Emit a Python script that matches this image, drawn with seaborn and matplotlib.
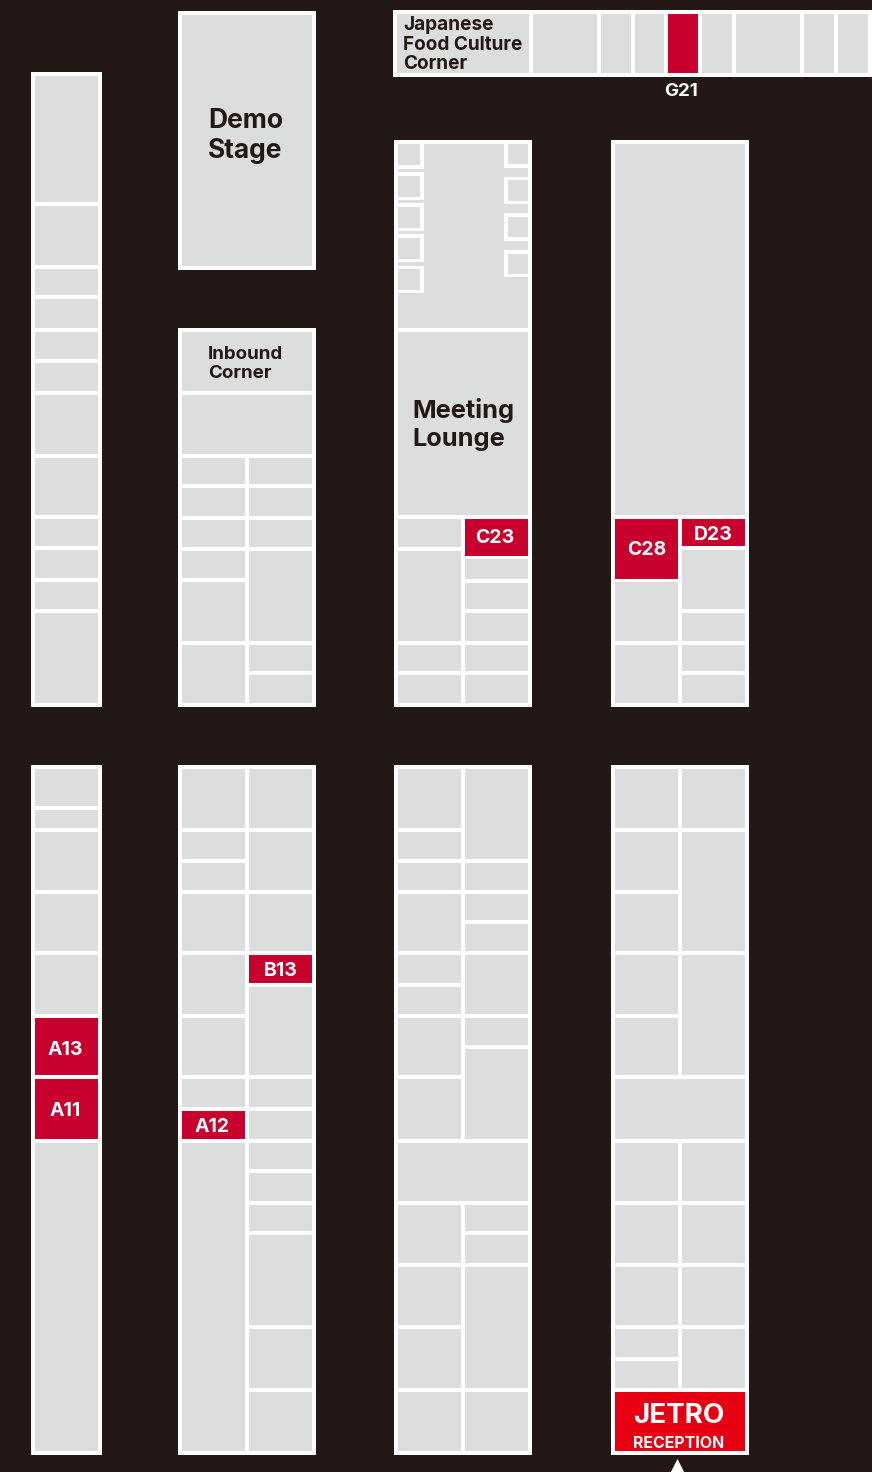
# Plano de la feria: bloques de stands sobre fondo oscuro
import pandas as pd
import seaborn as sns
import matplotlib.pyplot as plt

DARK = "#231815"
GREY = "#dcdddd"
RED = "#c7002e"
JETRO_RED = "#e60012"

# Bloques blancos (x0, x1, y0, y1)
blocks = [
    (31, 102, 72, 707), (178, 316, 11, 270), (178, 316, 328, 707),
    (394, 532, 140, 707), (611, 749, 140, 707), (393, 873, 9.5, 76.5),
    (31, 102, 765, 1455), (178, 316, 765, 1455), (394, 532, 765, 1455),
    (611, 749, 765, 1455),
]

# Columnas de stands: (x0, x1, y inicio, y fin, divisiones)
columns = [
    (35, 98, 76, 703, [204, 267, 297, 330, 361, 393, 456, 517, 548, 580, 611]),
    (182, 312, 15, 266, []),
    (182, 312, 332, 454, [393]),
    (182, 245, 458, 703, [486, 518, 549, 580, 643]),
    (249, 312, 458, 703, [486, 518, 549, 643, 673]),
    (398, 528, 144, 515, [330]),
    (398, 461, 519, 703, [549, 643, 673]),
    (465, 528, 519, 703, [557, 581, 611, 643, 673]),
    (615, 745, 144, 515, []),
    (615, 678, 519, 703, [580, 643]),
    (682, 745, 519, 703, [548, 611, 643, 673]),
    (35, 98, 769, 1451, [808, 830, 892, 953, 1016, 1077, 1141]),
    (182, 245, 769, 1451, [830, 861, 892, 953, 1016, 1077, 1109, 1141]),
    (249, 312, 769, 1451, [830, 892, 953, 985, 1077, 1109, 1141, 1171, 1203, 1233, 1327, 1390]),
    (398, 461, 769, 1139, [830, 861, 892, 953, 985, 1016, 1077]),
    (465, 528, 769, 1139, [861, 892, 922, 953, 1016, 1047]),
    (398, 528, 1143, 1201, []),
    (398, 461, 1205, 1451, [1265, 1327, 1390]),
    (465, 528, 1205, 1451, [1233, 1265, 1390]),
    (615, 678, 769, 1075, [830, 892, 953, 1016]),
    (682, 745, 769, 1075, [830, 953]),
    (615, 745, 1079, 1139, []),
    (615, 678, 1143, 1451, [1203, 1265, 1327, 1359, 1390]),
    (682, 745, 1143, 1451, [1203, 1265, 1327, 1390]),
]

# Fila superior (x0, x1) de Japanese Food Culture
strip_cells = [(397, 529), (533, 597), (601, 631), (635, 664), (668, 698),
               (702, 732), (736, 800), (804, 834), (838, 868)]
strip_top, strip_bottom = 14, 73

# Cuadros pequeños de Meeting Lounge: (x0, x1, y0, y1) borde e interior
small_left_outer = [(398, 424, 144, 169), (398, 424, 172, 200), (398, 424, 203, 231),
                    (398, 424, 234, 262), (398, 424, 266, 293)]
small_left_inner = [(398, 420, 144, 165), (398, 420, 176, 197), (398, 420, 207, 228),
                    (398, 420, 238, 259), (398, 420, 269, 290)]
small_right_outer = [(504, 528, 144, 168), (504, 528, 177, 204),
                     (504, 528, 213, 241), (504, 528, 250, 277)]
small_right_inner = [(508, 528, 144, 164), (508, 528, 180, 201),
                     (508, 528, 217, 237), (508, 528, 254, 274)]

# Stands destacados
red_labels = ["A13", "A11", "A12", "B13", "C23", "C28", "D23", ""]
red_cells = [(35, 98, 1018, 1075), (35, 98, 1079, 1139), (182, 245, 1111, 1139),
             (249, 312, 955, 983), (465, 528, 519, 556), (615, 678, 519, 579),
             (682, 745, 519, 546), (668, 698, 14, 73)]
red_text_x = [65.5, 65.5, 212.5, 281, 495, 647, 713, 0]
red_text_y = [1050, 1111, 1127, 971, 538, 550, 535, 0]

sns.set_theme(style="white")
plt.rcParams["font.family"] = ["Inter", "DejaVu Sans"]


def rect_table(rects, color):
    df = pd.DataFrame(rects, columns=["x0", "x1", "y0", "y1"])
    df["color"] = color
    return df


# Pasar las columnas a celdas separadas por una linea blanca de 4 px
cells = []
for x0, x1, top, bottom, lines in columns:
    edges = [top - 2] + lines + [bottom + 2]
    for a, b in zip(edges[:-1], edges[1:]):
        cells.append((x0, x1, a + 2, b - 2))

layers = pd.concat([
    rect_table(blocks, "white"),
    rect_table(cells, GREY),
    rect_table([(x0, x1, strip_top, strip_bottom) for x0, x1 in strip_cells], GREY),
    rect_table(small_left_outer + small_right_outer, "white"),
    rect_table(small_left_inner + small_right_inner, GREY),
    rect_table(red_cells, RED),
    rect_table([(615, 745, 1392, 1451)], JETRO_RED),
], ignore_index=True)

fig = plt.figure(figsize=(8.72, 14.72), dpi=100, facecolor=DARK)
ax = fig.add_axes([0, 0, 1, 1], facecolor=DARK)

ax.bar(layers["x0"], layers["y1"] - layers["y0"], width=layers["x1"] - layers["x0"],
       bottom=layers["y0"], align="edge", color=layers["color"], linewidth=0)

# Flecha de la entrada
sns.scatterplot(x=[677], y=[1471], marker="^", s=330, color="white", linewidth=0, ax=ax, legend=False)

ax.set_xlim(0, 872)
ax.set_ylim(1472, 0)
ax.set_axis_off()
sns.despine(ax=ax, left=True, bottom=True)

# Textos
for label, x, y in zip(red_labels, red_text_x, red_text_y):
    if label:
        ax.text(x, y, label, color="white", fontsize=14, fontweight="bold", ha="center", va="center")

ax.text(681, 92, "G21", color="white", fontsize=13.5, fontweight="bold", ha="center", va="center")
ax.text(208, 136, "Demo\nStage", color=DARK, fontsize=19, fontweight="bold", ha="left", va="center", linespacing=1.25)
ax.text(208, 364, "Inbound\nCorner", color=DARK, fontsize=13.5, fontweight="bold", ha="left", va="center", linespacing=1.2)
ax.text(412, 424.5, "Meeting\nLounge", color=DARK, fontsize=18.3, fontweight="bold", ha="left", va="center", linespacing=1.32)
ax.text(403, 44.5, "Japanese\nFood Culture\nCorner", color=DARK, fontsize=13.7, fontweight="bold", ha="left", va="center", linespacing=1.08)
ax.text(678.5, 1416, "JETRO", color="white", fontsize=20, fontweight="bold", ha="center", va="center")
ax.text(678.5, 1443, "RECEPTION", color="white", fontsize=11.5, fontweight="bold", ha="center", va="center")

fig.savefig("out.png", dpi=100, facecolor=DARK)
